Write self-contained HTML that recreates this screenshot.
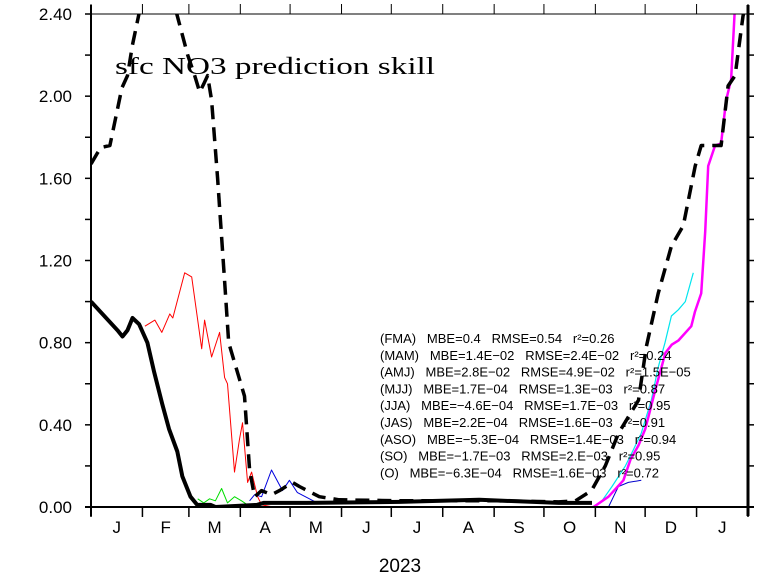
<!DOCTYPE html>
<html><head><meta charset="utf-8"><style>
html,body{margin:0;padding:0;background:#fff;}
svg{display:block;font-family:"Liberation Sans",sans-serif;}
#stats text{white-space:pre;}
</style></head><body>
<svg id="chart" width="766" height="576" viewBox="0 0 766 576" xmlns="http://www.w3.org/2000/svg">
<defs><clipPath id="plotclip"><rect x="91" y="14" width="657" height="493"/></clipPath></defs>
<rect x="0" y="0" width="766" height="576" fill="#fff"/>
<g id="series" clip-path="url(#plotclip)"></g>
<g id="axes"></g>
<text x="115" y="74" font-family="Liberation Serif, serif" font-size="24" textLength="320" lengthAdjust="spacingAndGlyphs" fill="#000">sfc NO3 prediction skill</text>
<text x="400" y="572" text-anchor="middle" font-size="19" fill="#000">2023</text>
<g id="stats" font-size="13" fill="#000"></g>
</svg>
<script>
const months = ["J","F","M","A","M","J","J","A","S","O","N","D","J"];
const monthStarts = [0,31,59,90,120,151,181,212,243,273,304,334,365,396];
const yTicks = [0,0.2,0.4,0.6,0.8,1.0,1.2,1.4,1.6,1.8,2.0,2.2,2.4];
const yLabels = ["0.00","0.40","0.80","1.20","1.60","2.00","2.40"];
const yLabelVals = [0,0.4,0.8,1.2,1.6,2.0,2.4];

const obsDays = [0,16,19,22,25,29,34,38,43,47,52,55,60,64,72,75,100,104,130,186,234,282,302];
const obsVals = [1.0,0.86,0.83,0.86,0.92,0.89,0.8,0.66,0.5,0.38,0.27,0.15,0.05,0.01,0.01,0.0,0.01,0.02,0.02,0.025,0.035,0.02,0.02];
const fmaDays = [0,3.6,6,11.4,15,18.6,22,25,29.4,40,50,51.7,58.3,62.5,65.5,68,70.3,72.7,76.3,80.5,83,92.5,95.6,98.6,102.8,108.8,113.6,121.4,125.6,137.6,149.6,185.7,245.8,281.9,292,301.7,310,318,330,334.7,341.9,349.8,357,364.2,367.8,379.8,384,388.2,393,394.8];
const fmaVals = [1.67,1.72,1.75,1.76,1.9,2.04,2.1,2.25,2.42,2.8,2.5,2.4,2.2,2.1,2.02,2.06,2.1,1.98,1.6,1.1,0.8,0.54,0.18,0.05,0.08,0.06,0.08,0.12,0.1,0.05,0.035,0.03,0.03,0.025,0.03,0.08,0.2,0.36,0.52,0.78,1.04,1.27,1.37,1.66,1.76,1.76,2.05,2.1,2.39,2.45];
const mamDays = [32.5,38.5,42.7,47.5,49.3,56.5,60.7,66.7,68.5,72.7,77.5,80.5,82.3,86.5,89.5,91.3,94.4,96.8,100.4,102.8,110];
const mamVals = [0.88,0.91,0.85,0.94,0.92,1.14,1.12,0.77,0.91,0.73,0.85,0.63,0.6,0.17,0.33,0.41,0.12,0.17,0.05,0.01,0.0];
const amjDays = [64.3,68,71.5,75,78.7,82.3,86.5,90.7,94.4,98.6];
const amjVals = [0.04,0.02,0.04,0.03,0.09,0.02,0.05,0.03,0.01,0.0];
const mjjDays = [95.6,98.6,102.8,108.8,115.4,119.6,124.4,136.4];
const mjjVals = [0.03,0.06,0.05,0.18,0.08,0.13,0.07,0.02];
const sonDays = [311.9,317.9,323.9,331.7];
const sonVals = [0.0,0.1,0.12,0.13];
const ondDays = [302.9,308,314,322.1,327,331.7,337.7,341.9,346,349.8,354,358.2,363];
const ondVals = [0.0,0.03,0.1,0.2,0.28,0.36,0.52,0.68,0.8,0.93,0.96,1.0,1.14];
const ndjDays = [302.9,311.9,320.9,325.1,330,334.1,340.1,346.2,350,354,361.8,364,367.8,370.2,372,376.2,379.8,382.8,385.8,388.2];
const ndjVals = [0.0,0.05,0.13,0.23,0.3,0.38,0.57,0.75,0.79,0.81,0.88,0.95,1.04,1.34,1.66,1.76,1.77,1.98,2.08,2.45];

const statsLines = [
"(FMA)   MBE=0.4   RMSE=0.54   r²=0.26",
"(MAM)   MBE=1.4E−02   RMSE=2.4E−02   r²=0.24",
"(AMJ)   MBE=2.8E−02   RMSE=4.9E−02   r²=1.5E−05",
"(MJJ)   MBE=1.7E−04   RMSE=1.3E−03   r²=0.87",
"(JJA)   MBE=−4.6E−04   RMSE=1.7E−03   r²=0.95",
"(JAS)   MBE=2.2E−04   RMSE=1.6E−03   r²=0.91",
"(ASO)   MBE=−5.3E−04   RMSE=1.4E−03   r²=0.94",
"(SO)   MBE=−1.7E−03   RMSE=2.E−03   r²=0.95",
"(O)   MBE=−6.3E−04   RMSE=1.6E−03   r²=0.72"
];

const X0=91, X1=748, Y0=507, Y1=14, DMAX=396;
function xs(d){return X0 + d*(X1-X0)/DMAX;}
function ys(v){return Y0 - v*(Y0-Y1)/2.4;}
const NS="http://www.w3.org/2000/svg";
function mk(tag, attrs, parent){const e=document.createElementNS(NS,tag);for(const k in attrs)e.setAttribute(k,attrs[k]);parent.appendChild(e);return e;}

const series=document.getElementById('series');
function line(days, vals, color, w, dash, name){
  const d = days.map((t,i)=>(i?'L':'M')+xs(t).toFixed(1)+','+ys(vals[i]).toFixed(1)).join('');
  const p = mk('path',{d:d,fill:'none',stroke:color,'stroke-width':w,'stroke-linejoin':'round'},series);
  if(dash) p.setAttribute('stroke-dasharray',dash);
  
  
}
line(mamDays,mamVals,'#ff0000',1,null,'series-mam');
line(amjDays,amjVals,'#00dd00',1,null,'series-amj');
line(mjjDays,mjjVals,'#0000dd',1,null,'series-mjj');
line(sonDays,sonVals,'#0000cc',1,null,'series-son');
line(ondDays,ondVals,'#00e5ee',1.2,null,'series-ond');
line(ndjDays,ndjVals,'#ff00ff',2.5,null,'series-ndj');
line(obsDays,obsVals,'#000',4,null,'series-observed');
line(fmaDays,fmaVals,'#000',3.5,'14,8','series-fma-dashed');

const axes=document.getElementById('axes');
const frame = mk('rect',{x:X0,y:Y1,width:X1-X0,height:Y0-Y1,fill:'none',stroke:'#000','stroke-width':1},axes);


mk('line',{x1:X0,y1:Y1-9,x2:X0,y2:Y0+9,stroke:'#000','stroke-width':2},axes);
mk('line',{x1:X1,y1:Y1-9,x2:X1,y2:Y0+9,stroke:'#000','stroke-width':3},axes);
mk('line',{x1:X0-6,y1:Y0,x2:X1+6,y2:Y0,stroke:'#000','stroke-width':2},axes);
yTicks.forEach(v=>{
  mk('line',{x1:X0-6,y1:ys(v),x2:X0,y2:ys(v),stroke:'#000','stroke-width':1.5},axes);
  mk('line',{x1:X1,y1:ys(v),x2:X1+6,y2:ys(v),stroke:'#000','stroke-width':1.5},axes);
});
yLabelVals.forEach((v,i)=>{
  const t=mk('text',{x:72,y:ys(v)+6,'text-anchor':'end','font-size':17,fill:'#000'},axes);
  t.textContent=yLabels[i];
  
  
});
monthStarts.forEach(d=>{
  mk('line',{x1:xs(d),y1:Y0,x2:xs(d),y2:Y0+10,stroke:'#000','stroke-width':1.5},axes);
  mk('line',{x1:xs(d),y1:Y1-10,x2:xs(d),y2:Y1,stroke:'#000','stroke-width':1},axes);
});
months.forEach((m,i)=>{
  const c=(xs(monthStarts[i])+xs(monthStarts[i+1]))/2;
  const t=mk('text',{x:c,y:533,'text-anchor':'middle','font-size':17,fill:'#000'},axes);
  t.textContent=m;
  
  
});
const stats=document.getElementById('stats');
statsLines.forEach((s,i)=>{
  const t=mk('text',{x:380,y:343+i*16.8},stats);
  t.setAttributeNS('http://www.w3.org/XML/1998/namespace','xml:space','preserve');
  t.textContent=s;
  
  
});
</script>
</body></html>
